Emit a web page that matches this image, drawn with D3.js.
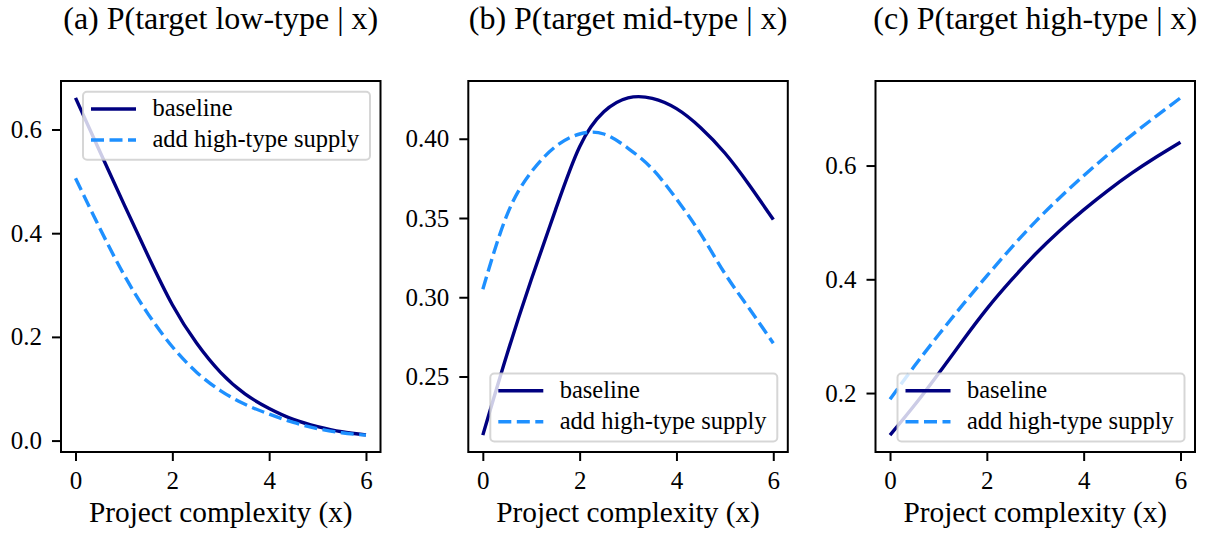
<!DOCTYPE html>
<html>
<head>
<meta charset="utf-8">
<script src="https://cdn.jsdelivr.net/npm/d3@7"></script>
<style>
  body { margin: 0; background: #fff; }
  svg text { font-family: "Liberation Serif", "Times New Roman", serif; fill: #000; }
</style>
</head>
<body>
<div id="chart"></div>
<script>
// values

var xValues = [0, 0.5, 1, 1.5, 2, 2.5, 3, 3.5, 4, 4.5, 5, 5.5, 6];

var lowBaseline = [0.661, 0.558, 0.456, 0.356, 0.262, 0.188, 0.131, 0.090, 0.062, 0.041, 0.027, 0.017, 0.011];
var lowSupply = [0.506, 0.410, 0.320, 0.244, 0.181, 0.132, 0.096, 0.070, 0.051, 0.035, 0.023, 0.015, 0.0105];

var midBaseline = [0.213, 0.264, 0.311, 0.355, 0.395, 0.417, 0.4258, 0.4255, 0.419, 0.407, 0.391, 0.371, 0.349];
var midSupply = [0.305, 0.352, 0.379, 0.395, 0.403, 0.403, 0.394, 0.381, 0.362, 0.340, 0.315, 0.293, 0.271];

var highBaseline = [0.126, 0.178, 0.234, 0.292, 0.348, 0.398, 0.444, 0.485, 0.522, 0.556, 0.587, 0.615, 0.641];
var highSupply = [0.189, 0.247, 0.302, 0.355, 0.406, 0.455, 0.501, 0.543, 0.582, 0.619, 0.654, 0.687, 0.719];

var titles = ['(a) P(target low-type | x)', '(b) P(target mid-type | x)', '(c) P(target high-type | x)'];
var seriesNames = ['baseline', 'add high-type supply'];
var xTicks = [0, 2, 4, 6];
var yTicksLow = [0.0, 0.2, 0.4, 0.6];
var yTicksMid = [0.25, 0.30, 0.35, 0.40];
var yTicksHigh = [0.2, 0.4, 0.6];
var xLabel = 'Project complexity (x)';

// set up svg area
var svgWidth = 1207;
var svgHeight = 535;

var panelTop = 81;
var panelBottom = 452;
var panelWidth = 319.5;
var panelLefts = [61, 468.3, 875.5];

var colors = ['#000080', '#1e90ff'];
var dash = '13,5.5';

var panels = [
  { title: titles[0], baseline: lowBaseline, supply: lowSupply, yTicks: yTicksLow, fmt: '.1f', legend: 'top' },
  { title: titles[1], baseline: midBaseline, supply: midSupply, yTicks: yTicksMid, fmt: '.2f', legend: 'bottom' },
  { title: titles[2], baseline: highBaseline, supply: highSupply, yTicks: yTicksHigh, fmt: '.1f', legend: 'bottom' }
];

var svg = d3.select('#chart')
  .append('svg')
  .attr('width', svgWidth)
  .attr('height', svgHeight);

panels.forEach(function(p, i) {
  var left = panelLefts[i];
  var width = panelWidth;
  var height = panelBottom - panelTop;

  var g = svg.append('g')
    .attr('transform', `translate(${left}, ${panelTop})`);

  // scales with 5% margins like matplotlib
  var xScale = d3.scaleLinear()
    .domain([-0.3, 6.3])
    .range([0, width]);

  var all = p.baseline.concat(p.supply);
  var lo = d3.min(all), hi = d3.max(all);
  var pad = (hi - lo) * 0.05;
  var yScale = d3.scaleLinear()
    .domain([lo - pad, hi + pad])
    .range([height, 0]);

  // axes
  var xAxis = g.append('g')
    .attr('transform', `translate(0, ${height})`)
    .call(d3.axisBottom(xScale).tickValues(xTicks).tickSize(9).tickPadding(10).tickFormat(d3.format('d')));

  var yAxis = g.append('g')
    .call(d3.axisLeft(yScale).tickValues(p.yTicks).tickSize(9).tickPadding(10).tickFormat(d3.format(p.fmt)));

  [xAxis, yAxis].forEach(function(ax) {
    ax.attr('font-family', null);
    ax.select('.domain').remove();
    ax.selectAll('line').attr('stroke', '#000').attr('stroke-width', 2);
    ax.selectAll('text')
      .attr('fill', '#000')
      .style('font-family', '"Liberation Serif", serif')
      .style('font-size', '25px');
  });

  // lines
  var line = d3.line()
    .x((d, k) => xScale(xValues[k]))
    .y(d => yScale(d))
    .curve(d3.curveNatural);

  g.append('path')
    .datum(p.baseline)
    .attr('fill', 'none')
    .attr('stroke', colors[0])
    .attr('stroke-width', 3.4)
    .attr('d', line);

  g.append('path')
    .datum(p.supply)
    .attr('fill', 'none')
    .attr('stroke', colors[1])
    .attr('stroke-width', 3.4)
    .attr('stroke-dasharray', dash)
    .attr('d', line);

  // legend
  var legW = 287, legH = 68;
  var legX = width - 10.5 - legW;
  var legY = p.legend == 'top' ? 10.7 : height - 10.5 - legH;

  var legend = g.append('g')
    .attr('transform', `translate(${legX}, ${legY})`);

  legend.append('rect')
    .attr('width', legW)
    .attr('height', legH)
    .attr('rx', 4)
    .attr('fill', '#fff')
    .attr('fill-opacity', 0.8)
    .attr('stroke', '#cccccc')
    .attr('stroke-opacity', 0.8)
    .attr('stroke-width', 2);

  seriesNames.forEach(function(name, k) {
    var ly = 17.3 + k * 31;
    legend.append('line')
      .attr('x1', 8)
      .attr('x2', 53)
      .attr('y1', ly)
      .attr('y2', ly)
      .attr('stroke', colors[k])
      .attr('stroke-width', 3.4)
      .attr('stroke-dasharray', k == 1 ? dash : null);
    legend.append('text')
      .attr('x', 69.4)
      .attr('y', ly + 7.5)
      .style('font-size', '24.5px')
      .text(name);
  });

  // frame
  g.append('rect')
    .attr('width', width)
    .attr('height', height)
    .attr('fill', 'none')
    .attr('stroke', '#000')
    .attr('stroke-width', 2);

  // title and x label
  g.append('text')
    .attr('x', width / 2)
    .attr('y', 29 - panelTop)
    .attr('text-anchor', 'middle')
    .style('font-size', '32px')
    .text(p.title);

  g.append('text')
    .attr('x', width / 2)
    .attr('y', 522 - panelTop)
    .attr('text-anchor', 'middle')
    .style('font-size', '29.3px')
    .text(xLabel);
});
</script>
</body>
</html>
